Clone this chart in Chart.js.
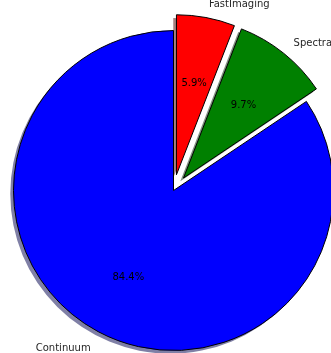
<!DOCTYPE html>
<html>
<head>
<meta charset="utf-8">
<script src="https://cdn.jsdelivr.net/npm/chart.js@4.4.1/dist/chart.umd.min.js"></script>
<style>
  html, body { margin: 0; padding: 0; background: #ffffff; }
  #wrap { width: 331px; height: 353px; }
</style>
</head>
<body>
<div id="wrap"><canvas id="c" width="331" height="353"></canvas></div>
<script>
// ---- data ----
const categories = ['FastImaging', 'Spectral', 'Continuum'];
const shares = [5.9, 9.7, 84.4];

// ---- styles ----
const sliceColors = ['#ff0000', '#008000', '#0000ff'];
const shadowColors = ['rgba(77,0,0,0.5)', 'rgba(0,38,0,0.5)', 'rgba(0,0,77,0.5)'];
const explodeFrac = [0.1, 0.1, 0];
const pieRadius = 160;
const shadowShift = 3.2;
const textDrop = 2.5;
const FONT = '10px "DejaVu Sans", sans-serif';

// shift exploded wedges outward along their mid angle (matplotlib-style explode)
const explodePlugin = {
  id: 'explode',
  afterDatasetUpdate(chart, args) {
    const meta = chart.getDatasetMeta(args.index);
    meta.data.forEach((arc, i) => {
      const d = explodeFrac[i] * arc.outerRadius;
      if (!d) return;
      const mid = (arc.startAngle + arc.endAngle) / 2;
      arc.x += Math.cos(mid) * d;
      arc.y += Math.sin(mid) * d;
    });
  }
};

const shadowPlugin = {
  id: 'shadow',
  beforeDatasetsDraw(chart) {
    const ctx = chart.ctx;
    const meta = chart.getDatasetMeta(0);
    ctx.save();
    meta.data.forEach((arc, i) => {
      ctx.beginPath();
      const cx = arc.x - shadowShift, cy = arc.y + shadowShift;
      ctx.moveTo(cx, cy);
      ctx.arc(cx, cy, arc.outerRadius, arc.startAngle, arc.endAngle);
      ctx.closePath();
      ctx.fillStyle = shadowColors[i];
      ctx.fill();
    });
    ctx.restore();
  }
};

const labelPlugin = {
  id: 'pielabels',
  afterDatasetsDraw(chart) {
    const ctx = chart.ctx;
    const meta = chart.getDatasetMeta(0);
    const total = shares.reduce((a, b) => a + b, 0);
    ctx.save();
    ctx.font = FONT;
    ctx.textBaseline = 'middle';
    meta.data.forEach((arc, i) => {
      const mid = (arc.startAngle + arc.endAngle) / 2;
      const r = arc.outerRadius;
      // category label
      const lx = arc.x + Math.cos(mid) * r * 1.1;
      const ly = arc.y + Math.sin(mid) * r * 1.1 + textDrop;
      ctx.textAlign = Math.cos(mid) > 0 ? 'left' : 'right';
      ctx.fillStyle = '#262626';
      ctx.fillText(categories[i], lx, ly);
      // percentage
      const px = arc.x + Math.cos(mid) * r * 0.6;
      const py = arc.y + Math.sin(mid) * r * 0.6 + textDrop;
      ctx.textAlign = 'center';
      ctx.fillStyle = '#000000';
      ctx.fillText((shares[i] / total * 100).toFixed(1) + '%', px, py);
    });
    ctx.restore();
  }
};

new Chart(document.getElementById('c'), {
  type: 'pie',
  data: {
    labels: categories,
    datasets: [{
      data: shares,
      backgroundColor: sliceColors,
      borderColor: '#000000',
      borderWidth: 1,
      clip: false
    }]
  },
  options: {
    responsive: false,
    animation: false,
    radius: pieRadius,
    rotation: 0,
    layout: { padding: { left: 16, right: 0, top: 28, bottom: 0 } },
    plugins: {
      legend: { display: false },
      tooltip: { enabled: false }
    },
    events: []
  },
  plugins: [explodePlugin, shadowPlugin, labelPlugin]
});
</script>
</body>
</html>
